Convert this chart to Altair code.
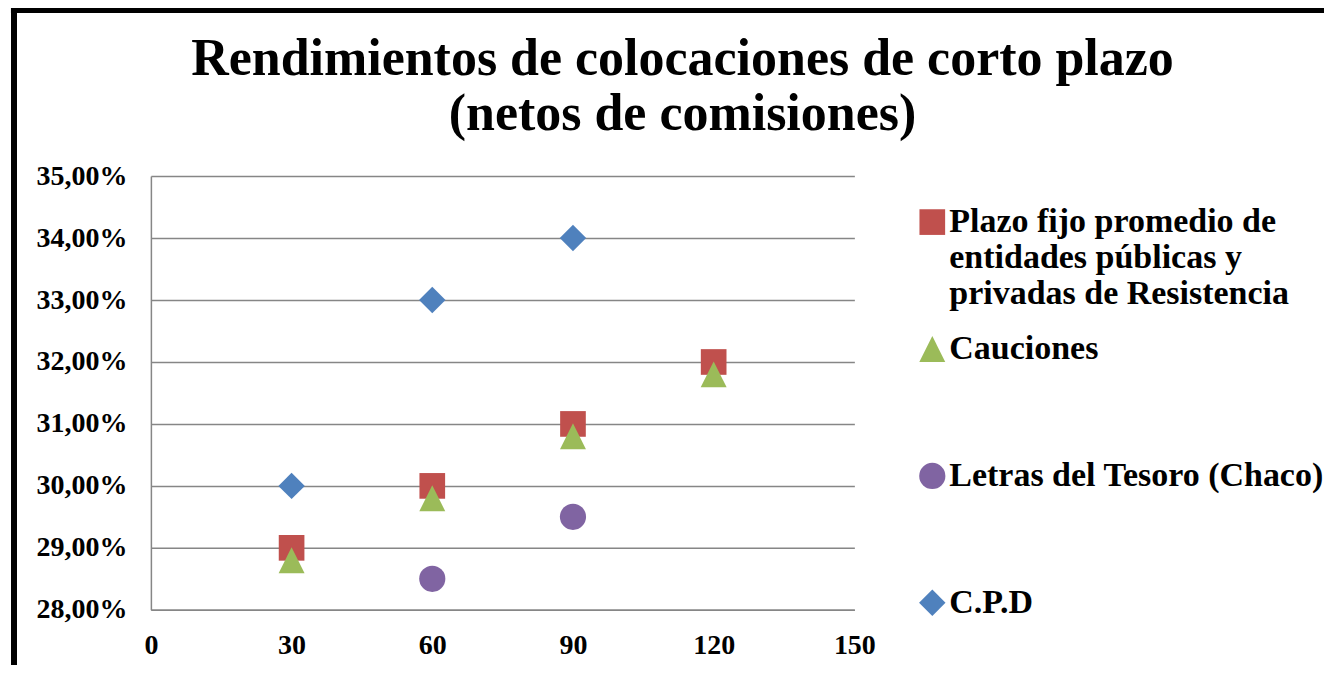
import altair as alt
import pandas as pd

series_names = [
    "Plazo fijo promedio de entidades públicas y privadas de Resistencia",
    "Cauciones",
    "Letras del Tesoro (Chaco)",
    "C.P.D",
]
plazo_x = [30, 60, 90, 120]
plazo_y = [29.0, 30.0, 31.0, 32.0]
cauciones_x = [30, 60, 90, 120]
cauciones_y = [28.8, 29.8, 30.8, 31.8]
letras_x = [60, 90]
letras_y = [28.5, 29.5]
cpd_x = [30, 60, 90]
cpd_y = [30.0, 33.0, 34.0]

x_ticks = [0, 30, 60, 90, 120, 150]
y_ticks = [28, 29, 30, 31, 32, 33, 34, 35]

colors = ["#C0504D", "#9BBB59", "#8064A2", "#4F81BD"]
shapes = ["square", "M0,-1L1,1L-1,1Z", "circle", "diamond"]
sizes = [660, 700, 760, 400]

rows = []
for i, (name, xs, ys) in enumerate(zip(series_names,
                                       [plazo_x, cauciones_x, letras_x, cpd_x],
                                       [plazo_y, cauciones_y, letras_y, cpd_y])):
    for xv, yv in zip(xs, ys):
        rows.append({"serie": name, "dias": xv, "rend": yv, "ord": i})
df = pd.DataFrame(rows)

FONT = "Liberation Serif"

label_expr = (
    "datum.label == '" + series_names[0] + "' ? "
    "['Plazo fijo promedio de', 'entidades públicas y', 'privadas de Resistencia'] : "
    "[datum.label, ' ', ' ']"
)

points = alt.Chart(df).mark_point(filled=True, opacity=1, strokeWidth=0).encode(
    x=alt.X("dias:Q", scale=alt.Scale(domain=[0, 150], nice=False),
            axis=alt.Axis(values=x_ticks, title=None, grid=False, ticks=False,
                          labelFlush=False, labelPadding=22,
                          domainColor="#868686", domainWidth=1.5)),
    y=alt.Y("rend:Q", scale=alt.Scale(domain=[28, 35], nice=False, zero=False),
            axis=alt.Axis(values=y_ticks, title=None, ticks=False, labelPadding=24,
                          labelExpr="replace(format(datum.value, '.2f'), '.', ',') + '%'",
                          gridColor="#868686", gridWidth=1.5,
                          domainColor="#868686", domainWidth=1.5)),
    color=alt.Color("serie:N", scale=alt.Scale(domain=series_names, range=colors),
                    legend=alt.Legend(title=None, orient="none", legendX=763, legendY=29,
                                      padding=0, symbolSize=400, symbolStrokeWidth=0,
                                      symbolOffset=2, labelOffset=0, labelLimit=0,
                                      rowPadding=21,
                                      labelFont=FONT, labelFontSize=34,
                                      labelFontWeight="bold", labelColor="#000000",
                                      labelExpr=label_expr)),
    shape=alt.Shape("serie:N", scale=alt.Scale(domain=series_names, range=shapes)),
    size=alt.Size("serie:N", scale=alt.Scale(domain=series_names, range=sizes), legend=None),
    order=alt.Order("ord:Q"),
)

left_border = alt.Chart(df).mark_rule(color="#000000", strokeWidth=5.5).encode(
    x=alt.value(-137), y=alt.value(-169), y2=alt.value(520))
top_border = alt.Chart(df).mark_rule(color="#000000", strokeWidth=5.5).encode(
    x=alt.value(-140), x2=alt.value(1200), y=alt.value(-166))

chart = alt.layer(points, left_border, top_border).properties(
    width=704, height=434,
    padding={"left": 143, "top": 168, "right": 470, "bottom": 55},
    autosize=alt.AutoSizeParams(type="none"),
    background="#ffffff",
    title=alt.TitleParams(
        ["Rendimientos de colocaciones de corto plazo", "(netos de comisiones)"],
        font=FONT, fontSize=52, fontWeight="bold", color="#000000",
        anchor="middle", dx=180, dy=167, lineHeight=55, offset=30,
    ),
).configure_view(stroke=None).configure_axis(
    labelFont=FONT, labelFontSize=28, labelFontWeight="bold", labelColor="#000000"
)

chart.save("out.html", embed_options={"renderer": "svg", "actions": False})
